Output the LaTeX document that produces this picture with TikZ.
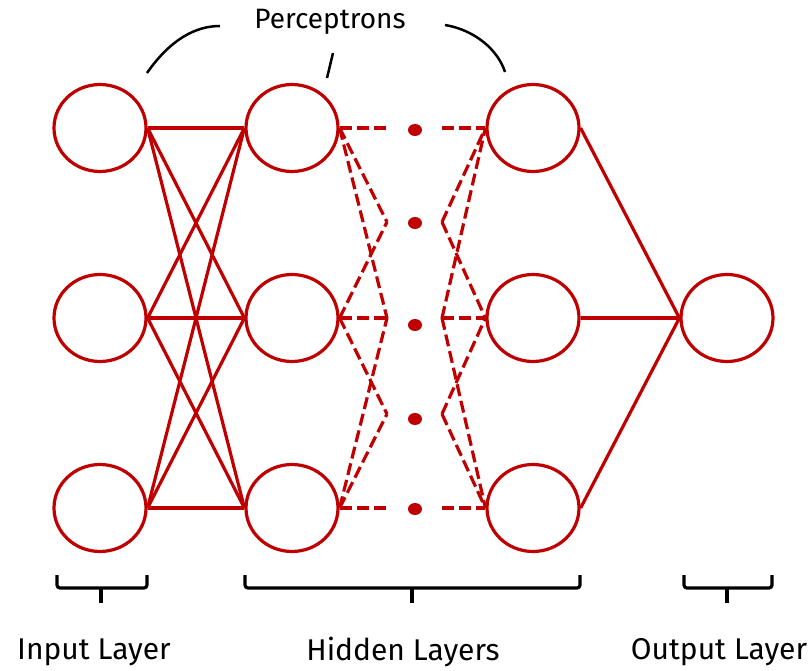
\documentclass[tikz,border=0pt]{standalone}
\usepackage{fontspec}
\setmainfont{Fira Sans}
\usetikzlibrary{shapes.geometric}
\definecolor{nnred}{RGB}{192,0,0}
\begin{document}
\begin{tikzpicture}[x=1pt,y=-1pt,
  neuron/.style={ellipse,draw=nnred,line width=3.2pt,minimum width=92pt,minimum height=87pt,inner sep=0pt},
  link/.style={draw=nnred,line width=3.2pt},
  dlink/.style={draw=nnred,line width=3.2pt,dash pattern=on 12pt off 5pt},
  dotn/.style={ellipse,fill=nnred,minimum width=14pt,minimum height=12pt,inner sep=0pt},
  brace/.style={draw=black,line width=3.2pt,rounded corners=3pt},
  note/.style={draw=black,line width=2.5pt},
  lab/.style={font=\fontsize{30}{31}\selectfont,inner sep=0pt,text=black}
]
\useasboundingbox (0,0) rectangle (811,671);
% neurons
\foreach \n/\y in {1/128,2/318,3/508}{
  \node[neuron] (in\n) at (100,\y) {};
  \node[neuron] (ha\n) at (292,\y) {};
  \node[neuron] (hb\n) at (533,\y) {};
}
\node[neuron] (out) at (727,318) {};
% dots and dashed end points
\foreach \k/\y/\dy in {0/128/130,1/222/223,2/318/325,3/414/419,4/508/509}{
  \coordinate (L\k) at (387,\y);
  \coordinate (R\k) at (442,\y);
  \node[dotn] (d\k) at (415,\dy) {};
}
% input -> hidden, hidden -> output
\foreach \i in {1,2,3}{
  \foreach \j in {1,2,3}{
    \draw[link] (in\i.east) -- (ha\j.west);
  }
  \draw[link] (hb\i.east) -- (out.west);
}
% dashed partial connections
\draw[dlink] (ha1.east) -- (L0); \draw[dlink] (ha1.east) -- (L1); \draw[dlink] (ha1.east) -- (L2);
\draw[dlink] (ha2.east) -- (L1); \draw[dlink] (ha2.east) -- (L2); \draw[dlink] (ha2.east) -- (L3);
\draw[dlink] (ha3.east) -- (L2); \draw[dlink] (ha3.east) -- (L3); \draw[dlink] (ha3.east) -- (L4);
\draw[dlink] (R0) -- (hb1.west); \draw[dlink] (R1) -- (hb1.west); \draw[dlink] (R2) -- (hb1.west);
\draw[dlink] (R1) -- (hb2.west); \draw[dlink] (R2) -- (hb2.west); \draw[dlink] (R3) -- (hb2.west);
\draw[dlink] (R2) -- (hb3.west); \draw[dlink] (R3) -- (hb3.west); \draw[dlink] (R4) -- (hb3.west);
% perceptrons annotation
\node[lab,font=\fontsize{28}{29}\selectfont] (perc) at (330,22) {Perceptrons};
\coordinate (pa1) at (147,73); \coordinate (pa2) at (220,26);
\coordinate (pb1) at (445,25); \coordinate (pb2) at (505,72);
\coordinate (pc1) at (333,53); \coordinate (pc2) at (327,78);
\draw[note] (pa1) .. controls (170,40) and (195,26) .. (pa2);
\draw[note] (pb1) .. controls (475,30) and (498,50) .. (pb2);
\draw[note] (pc1) -- (pc2);
% braces
\draw[brace] (57,575) -- (57,588) -- (147,588) -- (147,575);
\draw[brace] (101,588) -- (101,603);
\draw[brace] (245,575) -- (245,588) -- (580,588) -- (580,575);
\draw[brace] (412,588) -- (412,603);
\draw[brace] (684,575) -- (684,588) -- (772,588) -- (772,575);
\draw[brace] (727,588) -- (727,603);
% labels
\node[lab] (linput) at (94,652) {Input Layer};
\node[lab] (lhidden) at (403,652) {Hidden Layers};
\node[lab] (loutput) at (719,652) {Output Layer};
\end{tikzpicture}
\end{document}
